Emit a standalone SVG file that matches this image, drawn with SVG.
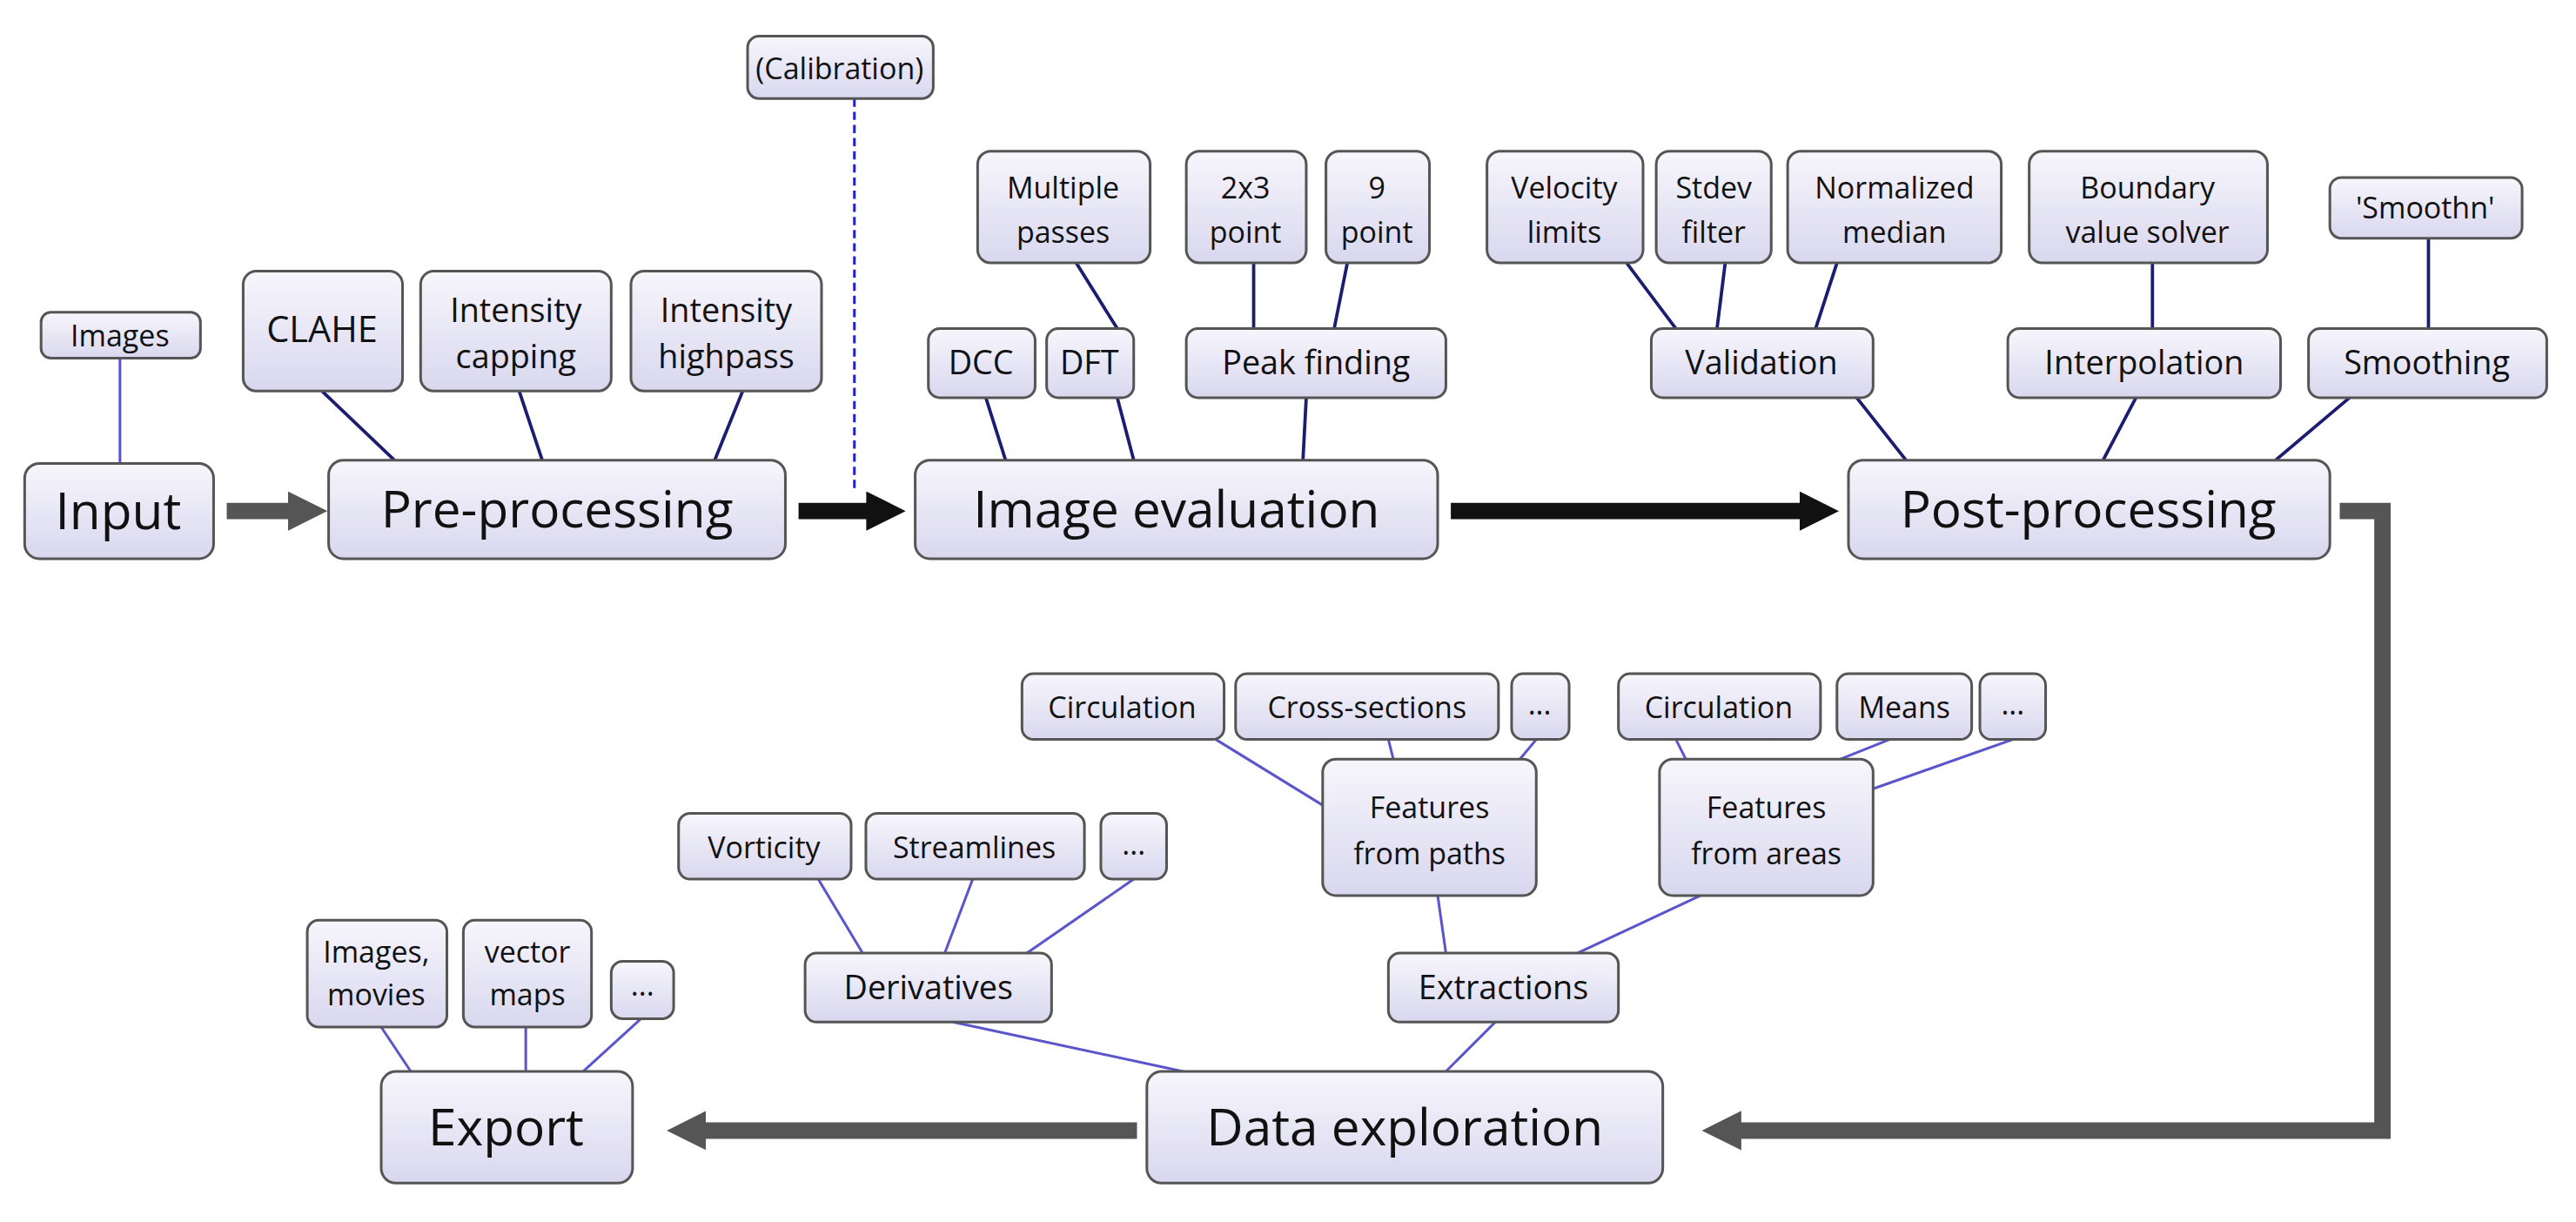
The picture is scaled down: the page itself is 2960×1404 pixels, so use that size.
<svg xmlns="http://www.w3.org/2000/svg" width="2960" height="1404" viewBox="0 0 2960 1404">
<defs>
<linearGradient id="gf" x1="0" y1="0" x2="0" y2="1"><stop offset="0" stop-color="#f7f6fc"/><stop offset="1" stop-color="#d9d7ee"/></linearGradient>
<marker id="ab" viewBox="0 0 10 10" refX="2" refY="5" markerWidth="2.4" markerHeight="2.4" orient="auto" markerUnits="strokeWidth"><path d="M0,0 L10,5 L0,10 z" fill="#111"/></marker>
<marker id="ag" viewBox="0 0 10 10" refX="2" refY="5" markerWidth="2.4" markerHeight="2.4" orient="auto" markerUnits="strokeWidth"><path d="M0,0 L10,5 L0,10 z" fill="#555"/></marker>
<style>
rect{fill:url(#gf);stroke:#555;stroke-width:1.6}
text{font-family:"Open Sans","Liberation Sans",sans-serif;fill:#111;text-anchor:middle}
.m{font-size:31px}.s{font-size:18px}
.d{stroke:#1c1c70;stroke-width:2;fill:none}
.b{stroke:#5a55cc;stroke-width:1.6;fill:none}
</style>
</defs>
<rect x="0" y="0" width="2960" height="1404" style="fill:#fff;stroke:none"/>
<g transform="scale(1.888)">
<g id="connectors">
<line class="b" x1="520" y1="60" x2="520" y2="298" stroke-dasharray="5,3" style="stroke:#2222cc"/>
<line class="b" x1="73" y1="218" x2="73" y2="282"/>
<path d="M138,311 H180" stroke="#555" stroke-width="10" fill="none" marker-end="url(#ag)"/>
<path d="M486,311 H532" stroke="#111" stroke-width="10" fill="none" marker-end="url(#ab)"/>
<path d="M883,311 H1100" stroke="#111" stroke-width="10" fill="none" marker-end="url(#ab)"/>
<path d="M1424,311 H1450 V688 H1055" stroke="#555" stroke-width="10" fill="none" marker-end="url(#ag)"/>
<path d="M692,688 H425" stroke="#555" stroke-width="10" fill="none" marker-end="url(#ag)"/>
<line class="d" x1="196" y1="238" x2="240" y2="280"/>
<line class="d" x1="316" y1="238" x2="330" y2="280"/>
<line class="d" x1="452" y1="238" x2="435" y2="280"/>
<line class="d" x1="600" y1="242" x2="612" y2="280"/>
<line class="d" x1="680" y1="242" x2="690" y2="280"/>
<line class="d" x1="795" y1="242" x2="793" y2="280"/>
<line class="d" x1="655" y1="160" x2="680" y2="200"/>
<line class="d" x1="763" y1="160" x2="763" y2="200"/>
<line class="d" x1="820" y1="160" x2="812" y2="200"/>
<line class="d" x1="990" y1="160" x2="1020" y2="200"/>
<line class="d" x1="1050" y1="160" x2="1045" y2="200"/>
<line class="d" x1="1118" y1="160" x2="1105" y2="200"/>
<line class="d" x1="1130" y1="242" x2="1160" y2="280"/>
<line class="d" x1="1310" y1="160" x2="1310" y2="200"/>
<line class="d" x1="1300" y1="242" x2="1280" y2="280"/>
<line class="d" x1="1478" y1="145" x2="1478" y2="200"/>
<line class="d" x1="1430" y1="242" x2="1385" y2="280"/>
<line class="b" x1="580" y1="622" x2="720" y2="652"/>
<line class="b" x1="910" y1="622" x2="880" y2="652"/>
<line class="b" x1="498" y1="535" x2="525" y2="580"/>
<line class="b" x1="592" y1="535" x2="575" y2="580"/>
<line class="b" x1="690" y1="535" x2="625" y2="580"/>
<line class="b" x1="875" y1="545" x2="880" y2="580"/>
<line class="b" x1="1035" y1="545" x2="960" y2="580"/>
<line class="b" x1="740" y1="450" x2="805" y2="490"/>
<line class="b" x1="845" y1="450" x2="848" y2="462"/>
<line class="b" x1="935" y1="450" x2="925" y2="462"/>
<line class="b" x1="1020" y1="450" x2="1030" y2="470"/>
<line class="b" x1="1150" y1="450" x2="1100" y2="470"/>
<line class="b" x1="1225" y1="450" x2="1140" y2="480"/>
<line class="b" x1="232" y1="625" x2="250" y2="652"/>
<line class="b" x1="320" y1="625" x2="320" y2="652"/>
<line class="b" x1="390" y1="620" x2="355" y2="652"/>
</g>
<g id="calibration"><rect x="455" y="22" width="113" height="38" rx="7"/><text class="s" x="511" y="48">(Calibration)</text></g>
<g id="images"><rect x="25" y="190" width="97" height="28" rx="6"/><text class="s" x="73" y="211">Images</text></g>
<g id="input"><rect x="15" y="282" width="115" height="58" rx="9"/><text class="m" x="72" y="322">Input</text></g>
<g id="preprocessing"><rect x="200" y="280" width="278" height="60" rx="9"/><text class="m" x="339" y="321">Pre-processing</text></g>
<g id="clahe"><rect x="148" y="165" width="97" height="73" rx="8"/><text class="s" x="196" y="208" style="font-size:22px">CLAHE</text></g>
<g id="capping"><rect x="256" y="165" width="116" height="73" rx="8"/><text class="s" x="314" y="196" style="font-size:20px">Intensity</text><text class="s" x="314" y="224" style="font-size:20px">capping</text></g>
<g id="highpass"><rect x="384" y="165" width="116" height="73" rx="8"/><text class="s" x="442" y="196" style="font-size:20px">Intensity</text><text class="s" x="442" y="224" style="font-size:20px">highpass</text></g>
<g id="imageeval"><rect x="557" y="280" width="318" height="60" rx="9"/><text class="m" x="716" y="321">Image evaluation</text></g>
<g id="dcc"><rect x="565" y="200" width="65" height="42" rx="7"/><text class="s" x="597" y="228" style="font-size:20px">DCC</text></g>
<g id="dft"><rect x="637" y="200" width="53" height="42" rx="7"/><text class="s" x="663" y="228" style="font-size:20px">DFT</text></g>
<g id="peak"><rect x="722" y="200" width="158" height="42" rx="7"/><text class="s" x="801" y="228" style="font-size:20px">Peak finding</text></g>
<g id="multiple"><rect x="595" y="92" width="105" height="68" rx="8"/><text class="s" x="647" y="121">Multiple</text><text class="s" x="647" y="148">passes</text></g>
<g id="p2x3"><rect x="722" y="92" width="73" height="68" rx="8"/><text class="s" x="758" y="121">2x3</text><text class="s" x="758" y="148">point</text></g>
<g id="p9"><rect x="807" y="92" width="63" height="68" rx="8"/><text class="s" x="838" y="121">9</text><text class="s" x="838" y="148">point</text></g>
<g id="postprocessing"><rect x="1125" y="280" width="293" height="60" rx="9"/><text class="m" x="1271" y="321">Post-processing</text></g>
<g id="velocity"><rect x="905" y="92" width="95" height="68" rx="8"/><text class="s" x="952" y="121">Velocity</text><text class="s" x="952" y="148">limits</text></g>
<g id="stdev"><rect x="1008" y="92" width="70" height="68" rx="8"/><text class="s" x="1043" y="121">Stdev</text><text class="s" x="1043" y="148">filter</text></g>
<g id="normmedian"><rect x="1088" y="92" width="130" height="68" rx="8"/><text class="s" x="1153" y="121">Normalized</text><text class="s" x="1153" y="148">median</text></g>
<g id="validation"><rect x="1005" y="200" width="135" height="42" rx="7"/><text class="s" x="1072" y="228" style="font-size:20px">Validation</text></g>
<g id="boundary"><rect x="1235" y="92" width="145" height="68" rx="8"/><text class="s" x="1307" y="121">Boundary</text><text class="s" x="1307" y="148">value solver</text></g>
<g id="interpolation"><rect x="1222" y="200" width="166" height="42" rx="7"/><text class="s" x="1305" y="228" style="font-size:20px">Interpolation</text></g>
<g id="smoothn"><rect x="1418" y="108" width="117" height="37" rx="7"/><text class="s" x="1476" y="133">'Smoothn'</text></g>
<g id="smoothing"><rect x="1405" y="200" width="145" height="42" rx="7"/><text class="s" x="1477" y="228" style="font-size:20px">Smoothing</text></g>
<g id="dataexploration"><rect x="698" y="652" width="314" height="68" rx="9"/><text class="m" x="855" y="697">Data exploration</text></g>
<g id="export"><rect x="232" y="652" width="153" height="68" rx="9"/><text class="m" x="308" y="697">Export</text></g>
<g id="imagesmovies"><rect x="187" y="560" width="85" height="65" rx="7"/><text class="s" x="229" y="586">Images,</text><text class="s" x="229" y="612">movies</text></g>
<g id="vectormaps"><rect x="282" y="560" width="78" height="65" rx="7"/><text class="s" x="321" y="586">vector</text><text class="s" x="321" y="612">maps</text></g>
<g id="exportmore"><rect x="372" y="585" width="38" height="35" rx="7"/><text class="s" x="391" y="606">...</text></g>
<g id="derivatives"><rect x="490" y="580" width="150" height="42" rx="7"/><text class="s" x="565" y="608" style="font-size:20px">Derivatives</text></g>
<g id="vorticity"><rect x="413" y="495" width="105" height="40" rx="7"/><text class="s" x="465" y="522">Vorticity</text></g>
<g id="streamlines"><rect x="527" y="495" width="133" height="40" rx="7"/><text class="s" x="593" y="522">Streamlines</text></g>
<g id="dermore"><rect x="670" y="495" width="40" height="40" rx="7"/><text class="s" x="690" y="520">...</text></g>
<g id="extractions"><rect x="845" y="580" width="140" height="42" rx="7"/><text class="s" x="915" y="608" style="font-size:20px">Extractions</text></g>
<g id="featpaths"><rect x="805" y="462" width="130" height="83" rx="8"/><text class="s" x="870" y="498">Features</text><text class="s" x="870" y="526">from paths</text></g>
<g id="circ1"><rect x="622" y="410" width="123" height="40" rx="7"/><text class="s" x="683" y="437">Circulation</text></g>
<g id="cross"><rect x="752" y="410" width="160" height="40" rx="7"/><text class="s" x="832" y="437">Cross-sections</text></g>
<g id="pathmore"><rect x="920" y="410" width="35" height="40" rx="7"/><text class="s" x="937" y="435">...</text></g>
<g id="featareas"><rect x="1010" y="462" width="130" height="83" rx="8"/><text class="s" x="1075" y="498">Features</text><text class="s" x="1075" y="526">from areas</text></g>
<g id="circ2"><rect x="985" y="410" width="123" height="40" rx="7"/><text class="s" x="1046" y="437">Circulation</text></g>
<g id="means"><rect x="1118" y="410" width="82" height="40" rx="7"/><text class="s" x="1159" y="437">Means</text></g>
<g id="areamore"><rect x="1205" y="410" width="40" height="40" rx="7"/><text class="s" x="1225" y="435">...</text></g>
</g>
</svg>
